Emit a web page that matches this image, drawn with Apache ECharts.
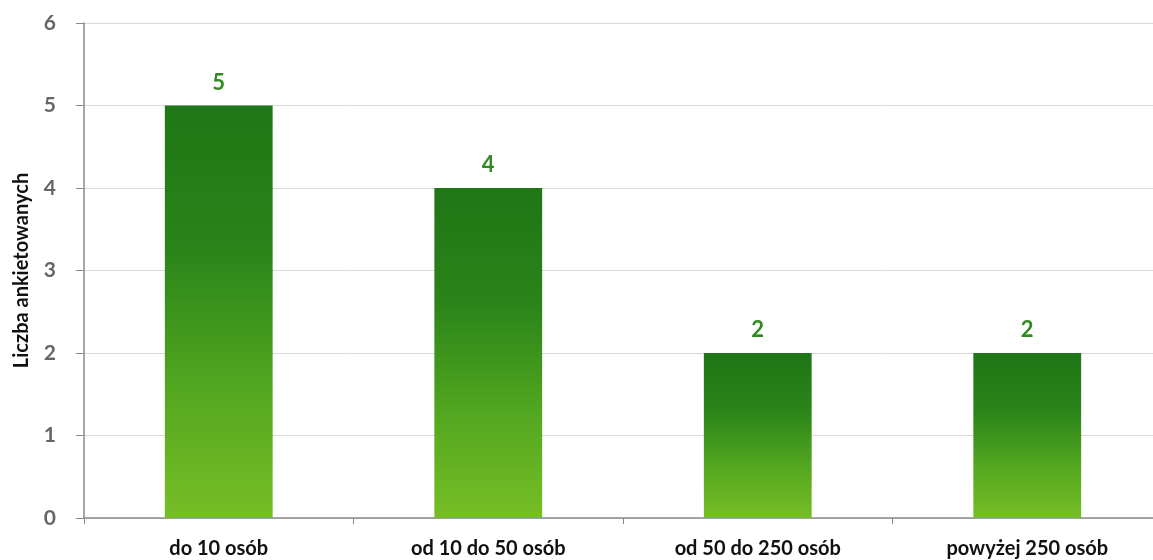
<!DOCTYPE html>
<html><head><meta charset="utf-8">
<script src="https://cdn.jsdelivr.net/npm/echarts@6/dist/echarts.min.js"></script>
<style>html,body{margin:0;padding:0;background:#fff}#c{width:1153px;height:560px}</style>
</head><body><div id="c"></div>
<script>
const categories = ['do 10 osób', 'od 10 do 50 osób', 'od 50 do 250 osób', 'powyżej 250 osób'];
const values = [5, 4, 2, 2];
const yAxisName = 'Liczba ankietowanych';

const chart = echarts.init(document.getElementById('c'));
chart.setOption({
  animation: false,
  grid: { left: 84, width: 1078, top: 23, bottom: 42, outerBoundsMode: 'none', containLabel: false },
  xAxis: {
    type: 'category',
    data: categories,
    axisLine: { lineStyle: { color: '#8a8a8a', width: 1.5 } },
    axisTick: { show: true, length: 6, lineStyle: { color: '#8a8a8a' } },
    axisLabel: { color: '#111', fontSize: 20, fontWeight: 'bold', fontFamily: 'Lato, sans-serif', margin: 21 }
  },
  yAxis: {
    type: 'value', min: 0, max: 6, interval: 1,
    name: yAxisName, nameLocation: 'middle', nameGap: 52,
    nameTextStyle: { color: '#111', fontSize: 20, fontWeight: 'bold', fontFamily: 'Lato, sans-serif' },
    axisLine: { show: true, lineStyle: { color: '#8a8a8a', width: 1.5 } },
    axisTick: { show: true, length: 8, lineStyle: { color: '#8a8a8a' } },
    axisLabel: { color: '#666', fontSize: 21, fontWeight: 'bold', fontFamily: 'Lato, sans-serif', margin: 28 },
    splitLine: { lineStyle: { color: '#d9d9d9' } }
  },
  series: [{
    type: 'bar',
    data: values,
    barWidth: '40%',
    itemStyle: {
      color: new echarts.graphic.LinearGradient(0, 0, 0, 1, [
        { offset: 0, color: '#1f7616' },
        { offset: 0.35, color: '#2a8419' },
        { offset: 0.7, color: '#55a820' },
        { offset: 1, color: '#76be26' }
      ])
    },
    label: { show: true, position: 'top', distance: 12, color: '#2f8a1f', fontSize: 22, fontWeight: 'bold', fontFamily: 'Lato, sans-serif' }
  }]
});
</script></body></html>
